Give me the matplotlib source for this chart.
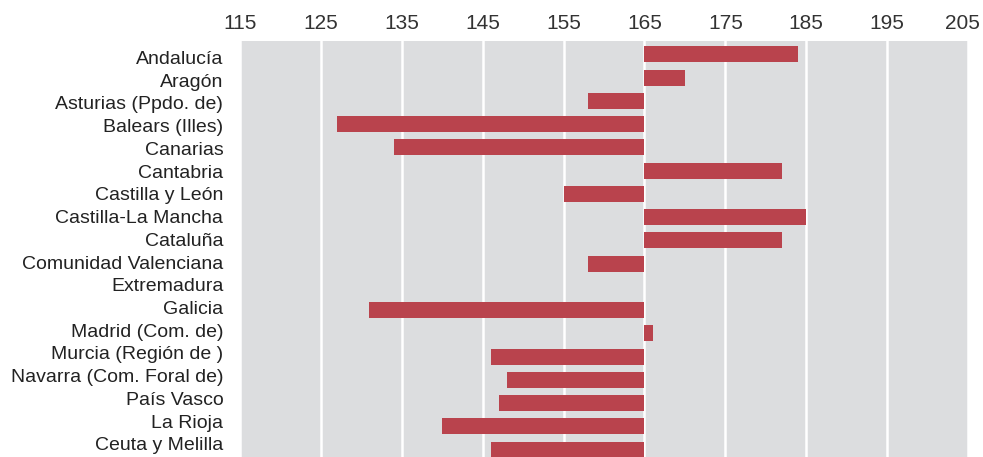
import matplotlib.pyplot as plt
import matplotlib.transforms as mtransforms
import numpy as np

regions = [
    "Andalucía", "Aragón", "Asturias (Ppdo. de)", "Balears (Illes)", "Canarias",
    "Cantabria", "Castilla y León", "Castilla-La Mancha", "Cataluña",
    "Comunidad Valenciana", "Extremadura", "Galicia", "Madrid (Com. de)",
    "Murcia (Región de )", "Navarra (Com. Foral de)", "País Vasco", "La Rioja",
    "Ceuta y Melilla",
]
values = [184, 170, 158, 127, 134, 182, 155, 185, 182, 158, 165, 131, 166,
          146, 148, 147, 140, 146]
base = 165
xticks = [115, 125, 135, 145, 155, 165, 175, 185, 195, 205]


def main() -> None:
    plt.rcParams["font.family"] = ["Liberation Sans", "DejaVu Sans"]

    fig = plt.figure(figsize=(9.83, 4.57), dpi=100)
    ax = fig.add_axes([240 / 983, 0, (968 - 240) / 983, (457 - 41) / 457])
    ax.set_facecolor("#dcdddf")

    y = np.arange(len(regions))
    v = np.array(values, dtype=float)
    ax.barh(y, v - base, left=base, height=0.69, color="#b9434d", zorder=3)

    ax.set_xlim(115, 205)
    ax.set_ylim(len(regions) - 1 + 0.32, -0.58)
    ax.set_xticks(xticks)
    ax.xaxis.tick_top()
    ax.grid(axis="x", color="white", linewidth=1.8, zorder=1)
    ax.set_axisbelow(True)

    # labels sit on a slightly tighter pitch than the bars
    ax.set_yticks(0.13 + y * 0.978)
    ax.set_yticklabels(regions)
    ax.tick_params(axis="y", length=0, pad=12, labelsize=14, labelcolor="#222222")
    ax.tick_params(axis="x", length=0, pad=6, labelsize=15, labelcolor="#333333")

    # nudge the last tick label so it stays inside the figure
    last = ax.get_xticklabels()[-1]
    last.set_transform(last.get_transform()
                       + mtransforms.ScaledTranslation(-4 / 72, 0, fig.dpi_scale_trans))

    for s in ax.spines.values():
        s.set_visible(False)

    fig.savefig("out.png", dpi=100)


if __name__ == "__main__":
    main()
